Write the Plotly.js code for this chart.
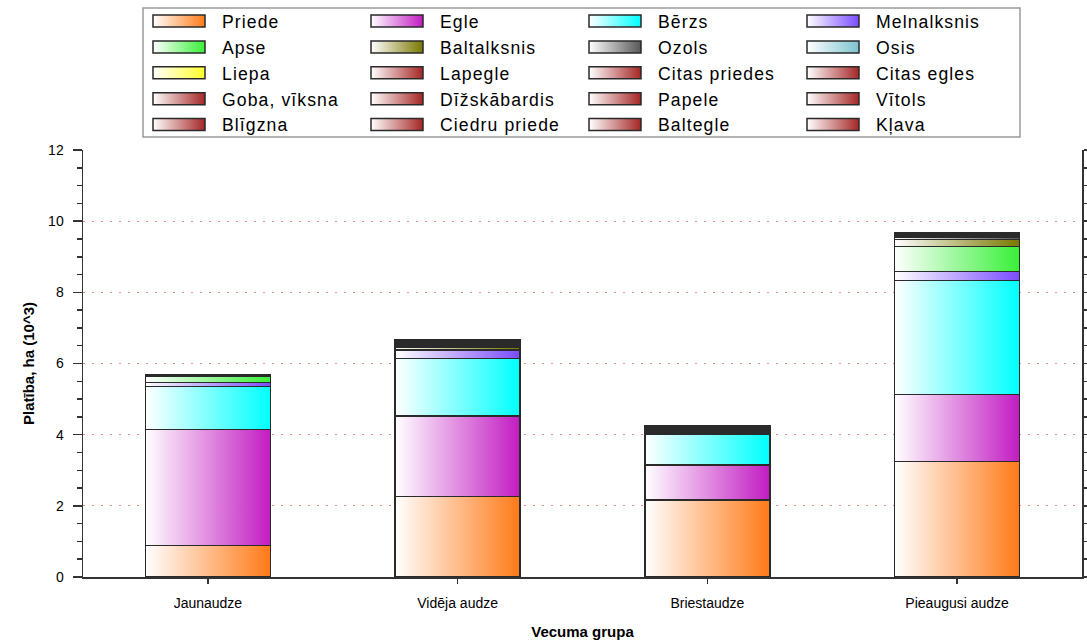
<!DOCTYPE html>
<html><head><meta charset="utf-8">
<script src="https://cdn.plot.ly/plotly-3.0.1.min.js"></script>
<style>
body{margin:0;background:#fff}
#chart{width:1087px;height:640px}
.legendtext{letter-spacing:1.1px}
</style></head><body>
<svg width="0" height="0" style="position:absolute"><defs id="grads"></defs></svg>
<div id="chart"></div>
<script>
const categories = ['Jaunaudze', 'Vidēja audze', 'Briestaudze', 'Pieaugusi audze'];

const priede       = [0.88, 2.26, 2.16, 3.24];
const egle         = [3.27, 2.27, 0.99, 1.89];
const berzs        = [1.20, 1.61, 0.87, 3.20];
const melnalksnis  = [0.11, 0.22, 0.04, 0.26];
const apse         = [0.17, 0.03, 0.01, 0.70];
const baltalksnis  = [0.01, 0.06, 0.01, 0.20];
const ozols        = [0.01, 0.03, 0.02, 0.07];
const osis         = [0.005, 0.02, 0.01, 0.02];
const liepa        = [0.005, 0.02, 0.01, 0.02];
const lapegle      = [0.005, 0.02, 0.02, 0.01];
const citasPriedes = [0, 0.01, 0.01, 0.005];
const citasEgles   = [0, 0.01, 0.01, 0.005];
const goba         = [0.005, 0.02, 0.02, 0.01];
const dizskabardis = [0, 0.01, 0.01, 0.005];
const papele       = [0, 0.01, 0.01, 0.01];
const vitols       = [0.005, 0.02, 0.02, 0.01];
const bligzna      = [0.005, 0.02, 0.02, 0.01];
const ciedruPriede = [0, 0.005, 0.005, 0.005];
const baltegle     = [0, 0.005, 0.005, 0.005];
const klava        = [0, 0.01, 0.01, 0.01];

const seriesNames = ['Priede','Egle','Bērzs','Melnalksnis','Apse','Baltalksnis','Ozols','Osis',
  'Liepa','Lapegle','Citas priedes','Citas egles','Goba, vīksna','Dīžskābardis','Papele','Vītols',
  'Blīgzna','Ciedru priede','Baltegle','Kļava'];
const seriesValues = [priede, egle, berzs, melnalksnis, apse, baltalksnis, ozols, osis,
  liepa, lapegle, citasPriedes, citasEgles, goba, dizskabardis, papele, vitols,
  bligzna, ciedruPriede, baltegle, klava];
const darkRed = '#a52626';
const seriesColors = ['#ff7a18','#c21cc2','#00ffff','#7a4cff','#38f038','#787800','#585858','#7cc2d0',
  '#ffff2a', darkRed, darkRed, darkRed, darkRed, darkRed, darkRed, darkRed,
  darkRed, darkRed, darkRed, darkRed];

const FONT = 'Liberation Sans, Arial, sans-serif';

const data = seriesNames.map((n, i) => ({
  type: 'bar', name: n, x: categories, y: seriesValues[i],
  marker: {color: seriesColors[i], line: {color: '#2a2a2a', width: 1.5}},
  hoverinfo: 'none'
}));

// plot area in px: x 83..1082, y 150..577
const L = 83, R = 5, T = 150, B = 63;
const W = 1087 - L - R, H = 640 - T - B;
const px2x = p => (p - L) / W;
const px2y = p => (T + H - p) / H;

const layout = {
  width: 1087, height: 640,
  margin: {l: L, r: R, t: T, b: B, pad: 0, autoexpand: false},
  paper_bgcolor: '#fff', plot_bgcolor: '#fff',
  barmode: 'stack', bargap: 0.5,
  font: {family: FONT, color: '#000'},
  showlegend: true,
  legend: {
    orientation: 'h', traceorder: 'normal',
    x: 136 / 1087, y: 1, xanchor: 'left', yanchor: 'top',
    xref: 'container', yref: 'container',
    entrywidth: 127, itemwidth: 76,
    font: {family: FONT, size: 17.6, color: '#000'},
    bgcolor: 'rgba(0,0,0,0)', borderwidth: 0
  },
  xaxis: {
    type: 'category', range: [-0.5, 3.5],
    showline: true, linecolor: '#333', linewidth: 1.5,
    ticks: 'outside', ticklen: 5, tickcolor: '#333', tickwidth: 1.5,
    ticklabelstandoff: 8,
    tickfont: {family: FONT, size: 14, color: '#000'},
    showgrid: false, zeroline: false,
    title: {text: 'Vecuma grupa', font: {family: FONT, size: 15, color: '#000', weight: 'bold'}, standoff: 16}
  },
  yaxis: {
    range: [0, 12], dtick: 2, tick0: 0,
    showline: true, linecolor: '#333', linewidth: 1.5, mirror: 'ticks',
    ticks: 'outside', ticklen: 9, tickcolor: '#333', tickwidth: 1.5,
    ticklabelstandoff: 6,
    minor: {dtick: 0.5, ticks: 'outside', ticklen: 5, tickcolor: '#333', tickwidth: 1.5, showgrid: false},
    tickfont: {family: FONT, size: 14, color: '#000'},
    showgrid: true, gridcolor: '#e88a8a', griddash: '1.5px,7.5px', gridwidth: 1.2,
    zeroline: false,
    title: {text: 'Platība, ha (10^3)', font: {family: FONT, size: 15, color: '#000', weight: 'bold'}, standoff: 10}
  },
  yaxis2: {
    overlaying: 'y', anchor: 'x', side: 'left', range: [0, 12], dtick: 2, tick0: 0,
    showline: false, mirror: 'allticks', showticklabels: false, showgrid: false, zeroline: false,
    ticks: 'inside', ticklen: 5, tickcolor: '#333', tickwidth: 1.5,
    minor: {dtick: 0.5, ticks: 'inside', ticklen: 5, tickcolor: '#333', tickwidth: 1.5, showgrid: false}
  },
  shapes: [{
    type: 'rect', xref: 'paper', yref: 'paper',
    x0: px2x(143), x1: px2x(1020), y0: px2y(137), y1: px2y(8),
    line: {color: '#9a9a9a', width: 1.5}, fillcolor: 'rgba(0,0,0,0)'
  }]
};

function buildGradients() {
  const defs = document.getElementById('grads');
  const ns = 'http://www.w3.org/2000/svg';
  seriesColors.forEach((c, i) => {
    const g = document.createElementNS(ns, 'linearGradient');
    g.setAttribute('id', 'gr' + i);
    g.setAttribute('x1', '0'); g.setAttribute('x2', '1');
    g.setAttribute('y1', '0'); g.setAttribute('y2', '0');
    const s0 = document.createElementNS(ns, 'stop');
    s0.setAttribute('offset', '0'); s0.setAttribute('stop-color', '#ffffff');
    const s1 = document.createElementNS(ns, 'stop');
    s1.setAttribute('offset', '1'); s1.setAttribute('stop-color', c);
    g.appendChild(s0); g.appendChild(s1);
    defs.appendChild(g);
  });
}

function applyGradients() {
  document.querySelectorAll('.barlayer .trace').forEach(el => {
    const idx = el.__data__ && el.__data__[0] && el.__data__[0].trace.index;
    if (idx === undefined) return;
    el.querySelectorAll('.point path').forEach(p => {
      p.style.fill = 'url(#gr' + idx + ')';
      p.style.fillOpacity = 1;
    });
  });
  let firstSwatch = null;
  document.querySelectorAll('.legend .traces').forEach(el => {
    const idx = el.__data__ && el.__data__[0] && el.__data__[0].trace.index;
    if (idx === undefined) return;
    const t = el.querySelector('.legendtext');
    const tx = t ? parseFloat(t.getAttribute('x')) || 0 : 0;
    el.querySelectorAll('.legendpoints path').forEach(p => {
      p.setAttribute('transform', '');
      p.setAttribute('d', 'M' + (tx - 69) + ',-6H' + (tx - 17) + 'V6H' + (tx - 69) + 'Z');
      p.style.fill = 'url(#gr' + idx + ')';
      p.style.fillOpacity = 1;
      p.style.stroke = '#2a2a2a';
      p.style.strokeWidth = '1.5px';
      if (idx === 0 && !firstSwatch) firstSwatch = p;
    });
  });
  // align the legend block with the drawn frame: first swatch at x=153, centred on y=21
  const lg = document.querySelector('.legend');
  if (lg && firstSwatch) {
    const r = firstSwatch.getBoundingClientRect();
    const m = /translate\(\s*([-\d.]+)[ ,]+([-\d.]+)\s*\)/.exec(lg.getAttribute('transform') || '');
    if (m) {
      const dx = 153 - r.left, dy = 21 - (r.top + r.height / 2);
      lg.setAttribute('transform', 'translate(' + (parseFloat(m[1]) + dx) + ',' + (parseFloat(m[2]) + dy) + ')');
    }
  }
}

buildGradients();
Plotly.newPlot('chart', data, layout, {staticPlot: true, displayModeBar: false}).then(applyGradients);
</script>
</body></html>
